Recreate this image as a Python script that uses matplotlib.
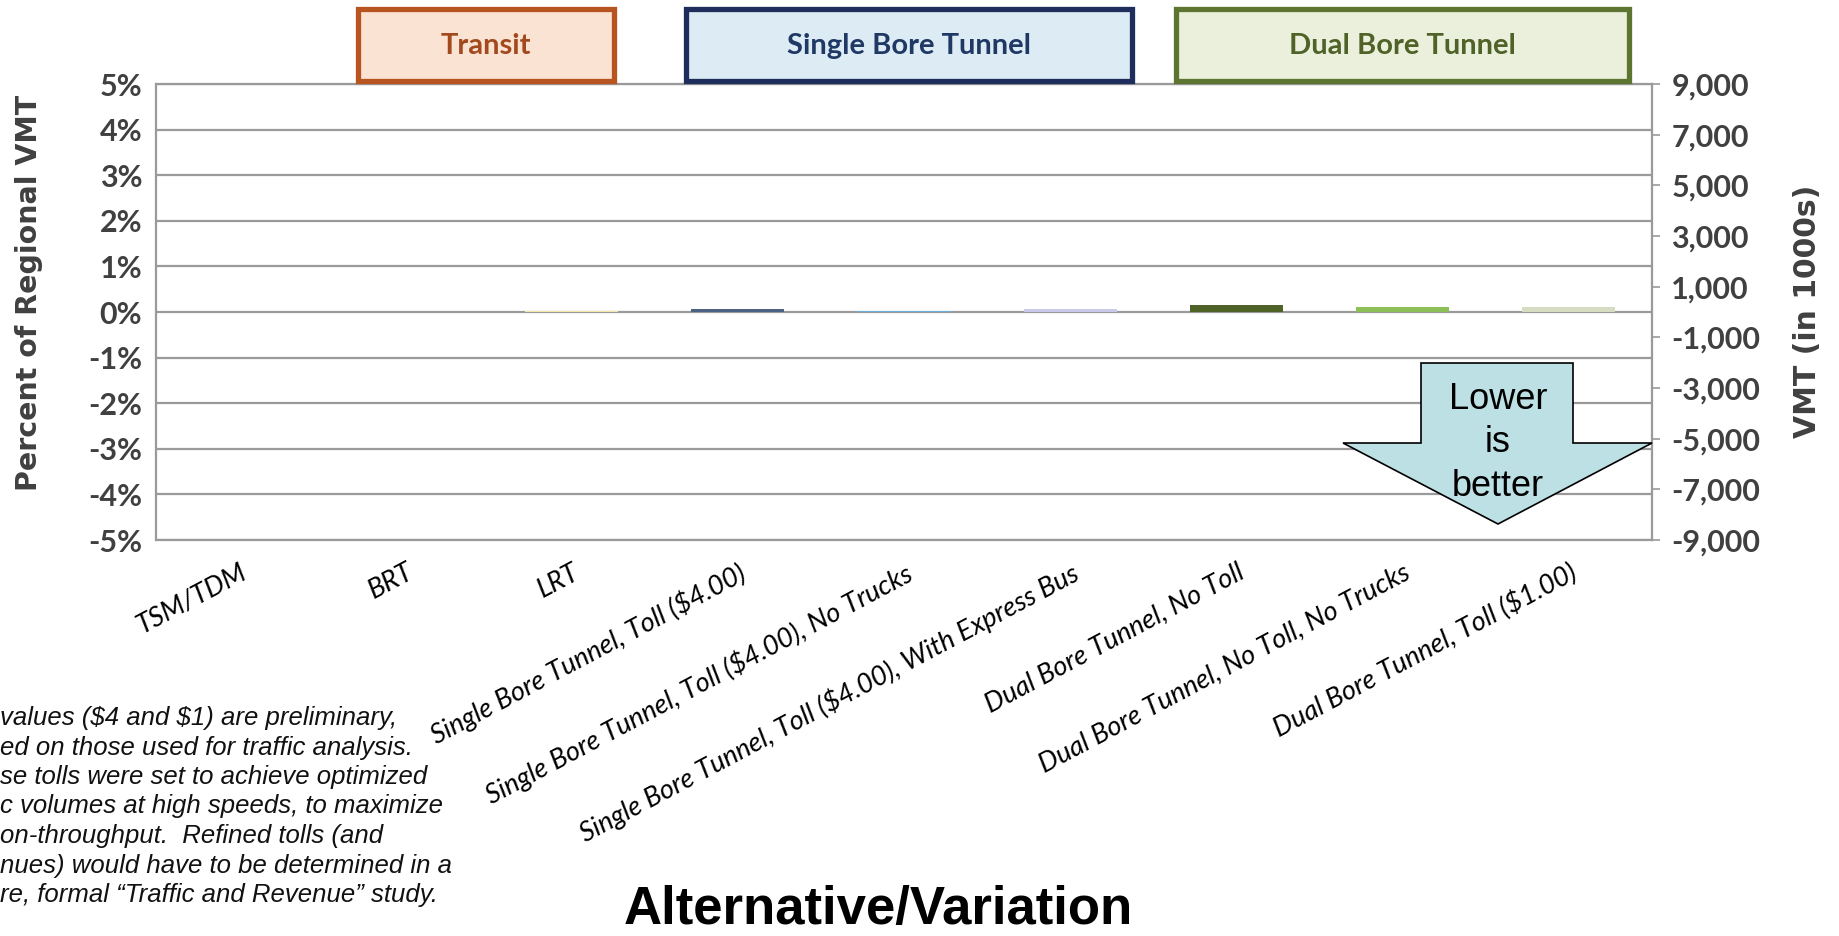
import matplotlib.pyplot as plt
import matplotlib.patches as mpatches
from matplotlib.ticker import FuncFormatter

# alternatives along the x axis
alternatives = [
    "TSM/TDM",
    "BRT",
    "LRT",
    "Single Bore Tunnel, Toll (\\$4.00)",
    "Single Bore Tunnel, Toll (\\$4.00), No Trucks",
    "Single Bore Tunnel, Toll (\\$4.00), With Express Bus",
    "Dual Bore Tunnel, No Toll",
    "Dual Bore Tunnel, No Toll, No Trucks",
    "Dual Bore Tunnel, Toll (\\$1.00)",
]

# change in regional VMT, percent
vmt_change_pct = [0.0, 0.0, 0.02, 0.06, 0.03, 0.065, 0.16, 0.10, 0.12]

bar_colors = ["#E46C0A", "#F79646", "#F2E6A8",
              "#4A6283", "#6AAEDB", "#C9C9EA",
              "#4F6228", "#8CC056", "#D6DCC2"]

# group headers above the plot
groups = ["Transit", "Single Bore Tunnel", "Dual Bore Tunnel"]
group_fill = ["#FBE3D3", "#DCEBF4", "#EAF0DC"]
group_edge = ["#B8541F", "#1F2D5C", "#5E7532"]
group_text = ["#A24A1E", "#1F3864", "#4F6228"]

pct_ticks = list(range(-5, 6))
vmt_ticks = list(range(-9000, 9001, 2000))

footnote = [
    "values (\\$4 and \\$1) are preliminary,",
    "ed on those used for traffic analysis.",
    "se tolls were set to achieve optimized",
    "c volumes at high speeds, to maximize",
    "on-throughput.  Refined tolls (and",
    "nues) would have to be determined in a",
    "re, formal \u201cTraffic and Revenue\u201d study.",
]

W, H = 1840, 936
fig = plt.figure(figsize=(W / 100, H / 100), dpi=100)

def fx(px):
    return px / W

def fy(py):
    return 1 - py / H

ax = fig.add_axes([fx(156), fy(540), fx(1652) - fx(156), fy(84) - fy(540)])

grid_c = "#9A9A9A"
x = list(range(len(alternatives)))
ax.bar(x, vmt_change_pct, width=0.56, color=bar_colors, zorder=3)

ax.set_xlim(-0.5, len(alternatives) - 0.5)
ax.set_ylim(-5, 5)
ax.set_yticks(pct_ticks)
ax.yaxis.set_major_formatter(FuncFormatter(lambda v, p: f"{v:.0f}%"))
ax.grid(axis="y", color=grid_c, lw=1.6, zorder=0)
ax.tick_params(axis="y", length=0, pad=10, labelsize=22, labelcolor="#404040")
for lab in ax.get_yticklabels():
    lab.set_fontfamily("Lato")
    lab.set_fontweight("bold")

ax.set_xticks(x)
ax.set_xticklabels(alternatives, rotation=28, ha="right", va="top",
                   rotation_mode="anchor", fontsize=19.5, family="Lato",
                   style="italic", color="black")
ax.tick_params(axis="x", length=0, pad=14)

for side in ["left", "right", "top", "bottom"]:
    ax.spines[side].set_color(grid_c)
    ax.spines[side].set_linewidth(1.6)

# secondary axis in thousands of VMT
ax2 = ax.twinx()
ax2.set_ylim(-9000, 9000)
ax2.set_yticks(vmt_ticks)
ax2.yaxis.set_major_formatter(FuncFormatter(lambda v, p: f"{v:,.0f}"))
ax2.tick_params(axis="y", length=6, width=1.2, color=grid_c, pad=8,
                labelsize=22, labelcolor="#404040")
for lab in ax2.get_yticklabels():
    lab.set_fontfamily("Lato")
    lab.set_fontweight("bold")
for side in ax2.spines.values():
    side.set_visible(False)

fig.text(fx(29), fy(293), "Percent of Regional VMT", rotation=90,
         ha="center", va="center", fontsize=20.5, fontweight="bold",
         family="DejaVu Sans", color="#404040")
fig.text(fx(1808), fy(311), "VMT (in 1000s)", rotation=90,
         ha="center", va="center", fontsize=21.5, fontweight="bold",
         family="DejaVu Sans", color="#404040")

# header boxes
box_x = [(358, 614), (686, 1132), (1176, 1629)]
for (x0, x1), name, fc, ec, tc in zip(box_x, groups, group_fill, group_edge, group_text):
    rect = mpatches.Rectangle((fx(x0), fy(81)), fx(x1) - fx(x0), fy(9) - fy(81),
                              transform=fig.transFigure, facecolor=fc,
                              edgecolor=ec, linewidth=3.8, zorder=5)
    fig.add_artist(rect)
    fig.text(fx((x0 + x1) / 2), fy(46), name, ha="center", va="center",
             fontsize=21, fontweight="bold", family="Lato", color=tc, zorder=6)

# "lower is better" arrow
arrow_pts = [(1421, 363), (1573, 363), (1573, 443), (1652, 443),
             (1498, 524), (1343, 443), (1421, 443)]
arrow = mpatches.Polygon([(fx(px), fy(py)) for px, py in arrow_pts],
                         closed=True, transform=fig.transFigure,
                         facecolor="#BCE0E3", edgecolor="black", lw=1.2, zorder=7)
fig.add_artist(arrow)
fig.text(fx(1498), fy(443), "Lower\nis\nbetter", ha="center", va="center",
         fontsize=26, family="Liberation Sans", linespacing=1.3, zorder=8)

# footnote on toll values
for i, line in enumerate(footnote):
    fig.text(0, fy(718 + i * 29.5), line, ha="left", va="center",
             fontsize=18.5, style="italic", family="Liberation Sans",
             color="#111111")

fig.text(fx(878), fy(924), "Alternative/Variation", ha="center", va="baseline",
         fontsize=38, fontweight="bold", family="Liberation Sans")

fig.savefig("out.png", dpi=100)
